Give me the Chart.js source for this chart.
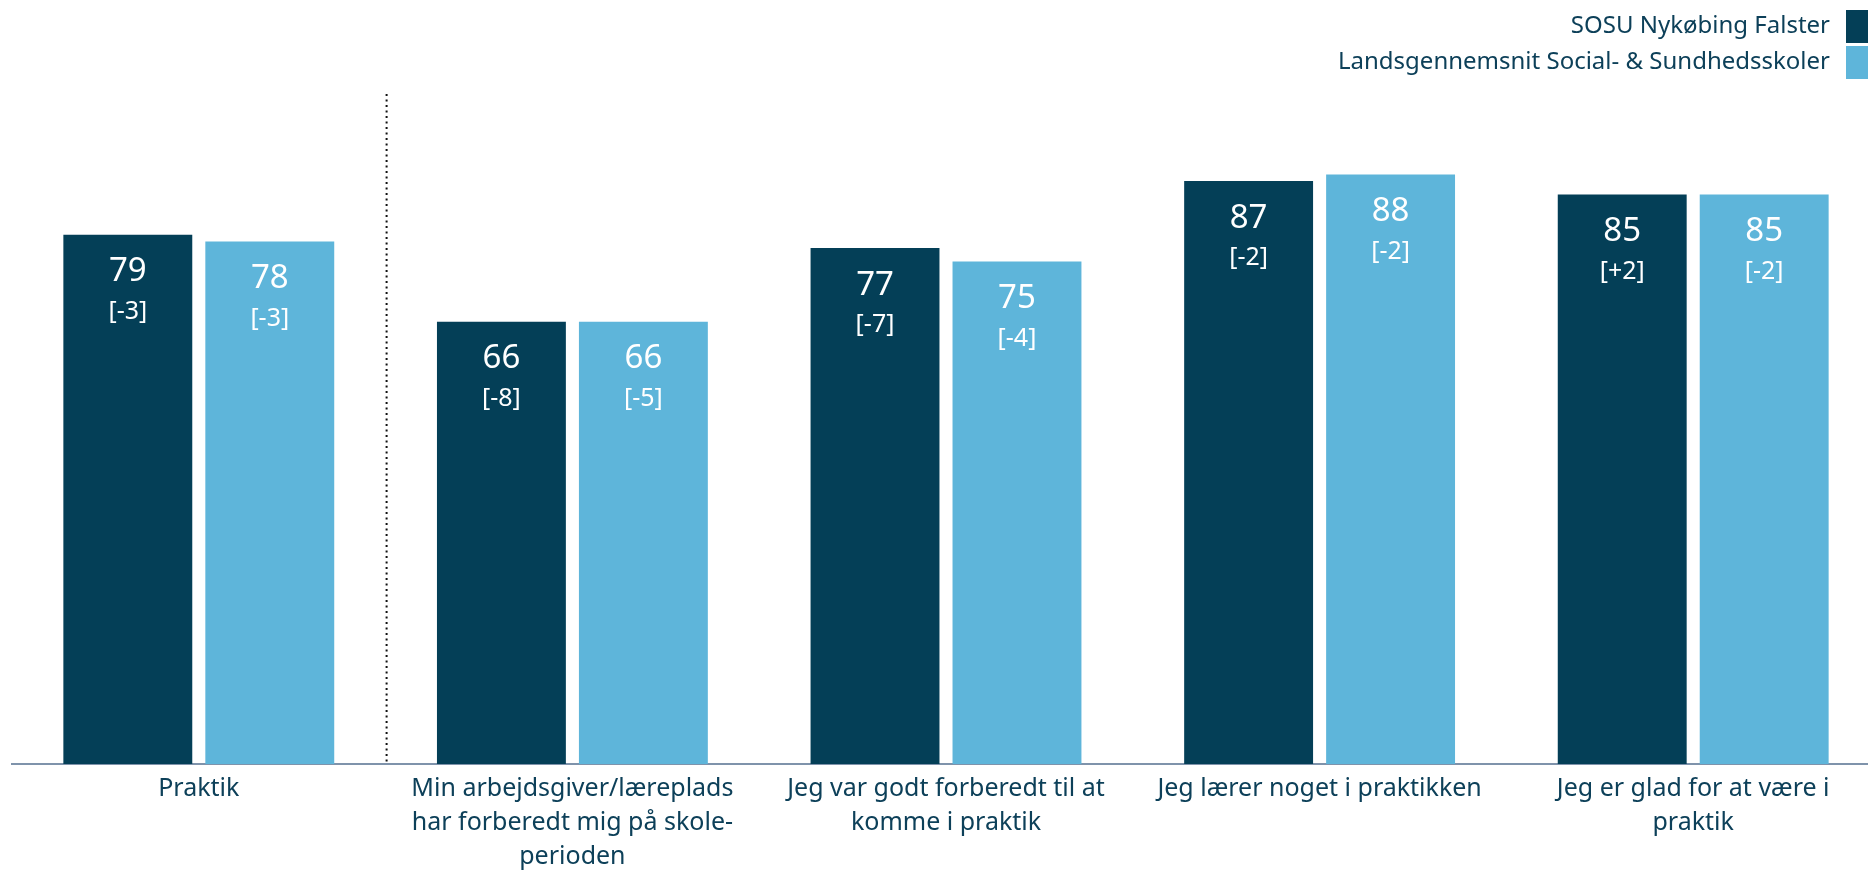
<!DOCTYPE html>
<html>
<head>
<meta charset="utf-8">
<script src="https://cdn.jsdelivr.net/npm/chart.js@4"></script>
<style>
  html, body { margin: 0; padding: 0; background: #fff; overflow: hidden; }
  #wrap { width: 1880px; height: 871px; }
</style>
</head>
<body>
<div id="wrap"><canvas id="chart" width="1880" height="871"></canvas></div>
<script>
// ---------------- Data ----------------
const categories = [
    "Praktik",
    ["Min arbejdsgiver/læreplads", "har forberedt mig på skole-", "perioden"],
    ["Jeg var godt forberedt til at", "komme i praktik"],
    "Jeg lærer noget i praktikken",
    ["Jeg er glad for at være i", "praktik"]
];
const seriesNames = ["SOSU Nykøbing Falster", "Landsgennemsnit Social- & Sundhedsskoler"];
const sosuValues = [79, 66, 77, 87, 85];
const landsValues = [78, 66, 75, 88, 85];
const sosuChanges = ["-3", "-8", "-7", "-2", "+2"];
const landsChanges = ["-3", "-5", "-4", "-2", "-2"];

const DARK = "#043f57";
const LIGHT = "#5eb5da";
const TEXT = "#0d4059";
const FONT = "'Noto Sans', 'DejaVu Sans', sans-serif";

// ---------------- Plugins ----------------
// value + change labels inside the bars
const barLabels = {
    id: "barLabels",
    afterDatasetsDraw(chart) {
        const ctx = chart.ctx;
        const changes = [sosuChanges, landsChanges];
        ctx.save();
        ctx.fillStyle = "#fff";
        ctx.textAlign = "center";
        ctx.textBaseline = "middle";
        chart.data.datasets.forEach((ds, i) => {
            chart.getDatasetMeta(i).data.forEach((bar, j) => {
                ctx.font = "33px " + FONT;
                ctx.fillText(String(ds.data[j]), bar.x, bar.y + 37);
                ctx.font = "25px " + FONT;
                ctx.fillText("[" + changes[i][j] + "]", bar.x, bar.y + 77);
            });
        });
        ctx.restore();
    }
};

// dotted separator after the first category
const separator = {
    id: "separator",
    beforeDatasetsDraw(chart) {
        const x = chart.scales.x;
        const area = chart.chartArea;
        const sx = (x.getPixelForValue(0) + x.getPixelForValue(1)) / 2 + 1;
        const ctx = chart.ctx;
        ctx.save();
        ctx.strokeStyle = "#111";
        ctx.lineWidth = 2;
        ctx.setLineDash([2, 3.5]);
        ctx.beginPath();
        ctx.moveTo(sx, area.top);
        ctx.lineTo(sx, area.bottom);
        ctx.stroke();
        ctx.restore();
    }
};

// legend at top right, text left of the box
const rightLegend = {
    id: "rightLegend",
    afterDraw(chart) {
        const ctx = chart.ctx;
        const boxX = 1846, box = 33;
        const rows = [10, 46];
        ctx.save();
        ctx.font = "24px " + FONT;
        ctx.textAlign = "right";
        ctx.textBaseline = "middle";
        chart.data.datasets.forEach((ds, i) => {
            ctx.fillStyle = ds.backgroundColor;
            ctx.fillRect(boxX, rows[i], box, box);
            ctx.fillStyle = TEXT;
            ctx.fillText(ds.label, 1830, rows[i] + box / 2);
        });
        ctx.restore();
    }
};

// ---------------- Chart ----------------
new Chart(document.getElementById("chart").getContext("2d"), {
    type: "bar",
    data: {
        labels: categories,
        datasets: [
            { label: seriesNames[0], data: sosuValues, backgroundColor: DARK },
            { label: seriesNames[1], data: landsValues, backgroundColor: LIGHT }
        ]
    },
    options: {
        responsive: false,
        animation: false,
        devicePixelRatio: 1,
        layout: { padding: { top: 94, left: 12, right: 0, bottom: 0 } },
        datasets: { bar: { categoryPercentage: 0.76, barPercentage: 0.908 } },
        plugins: { legend: { display: false }, tooltip: { enabled: false } },
        scales: {
            y: { display: false, min: 0, max: 100 },
            x: {
                grid: { display: false },
                border: { display: true, color: "#7f93ab", width: 2 },
                ticks: {
                    color: TEXT,
                    font: { family: FONT, size: 25, lineHeight: 1.36 },
                    padding: 0,
                    maxRotation: 0,
                    autoSkip: false
                },
                afterFit(scale) { scale.height = 107; }
            }
        }
    },
    plugins: [barLabels, separator, rightLegend]
});
</script>
</body>
</html>
